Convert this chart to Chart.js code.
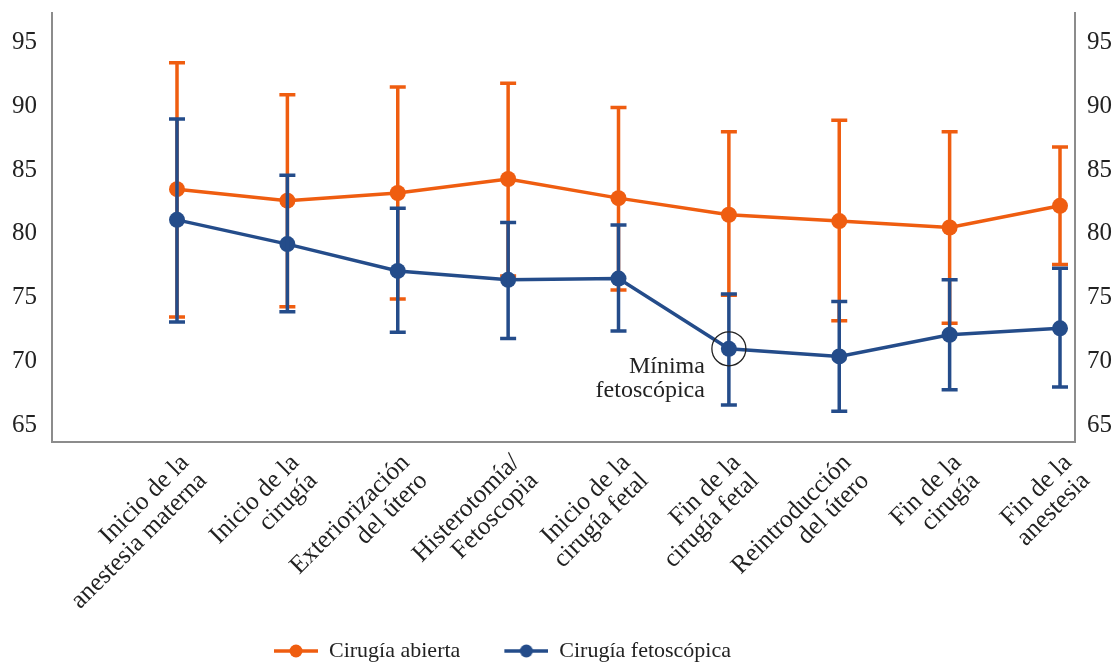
<!DOCTYPE html>
<html>
<head>
<meta charset="utf-8">
<script src="https://cdn.jsdelivr.net/npm/chart.js@4.4.0/dist/chart.umd.min.js"></script>
<style>
  html, body { margin: 0; padding: 0; background: #fff; }
  #wrap { width: 1119px; height: 668px; position: relative; }
</style>
</head>
<body>
<div id="wrap"><canvas id="chart"></canvas></div>
<script>
// datos
const categories = [
  ['Inicio de la', 'anestesia materna'],
  ['Inicio de la', 'cirugía'],
  ['Exteriorización', 'del útero'],
  ['Histerotomía/', 'Fetoscopia'],
  ['Inicio de la', 'cirugía fetal'],
  ['Fin de la', 'cirugía fetal'],
  ['Reintroducción', 'del útero'],
  ['Fin de la', 'cirugía'],
  ['Fin de la', 'anestesia']
];
const seriesNames = ['Cirugía abierta', 'Cirugía fetoscópica'];

const abiertaMean = [83.5, 82.6, 83.2, 84.3, 82.8, 81.5, 81.0, 80.5, 82.2];
const abiertaHigh = [93.4, 90.9, 91.5, 91.8, 89.9, 88.0, 88.9, 88.0, 86.8];
const abiertaLow  = [73.5, 74.3, 74.9, 76.7, 75.6, 75.2, 73.2, 73.0, 77.6];

const fetoMean = [81.1, 79.2, 77.1, 76.4, 76.5, 71.0, 70.4, 72.1, 72.6];
const fetoHigh = [89.0, 84.6, 82.0, 80.9, 80.7, 75.3, 74.7, 76.4, 77.3];
const fetoLow  = [73.1, 73.9, 72.3, 71.8, 72.4, 66.6, 66.1, 67.8, 68.0];

const yTicks = [65, 70, 75, 80, 85, 90, 95];
const minimaIndex = 5;
const minimaText = ['Mínima', 'fetoscópica'];

const ORANGE = '#EF5D10';
const BLUE = '#244C8A';
const AXIS = '#8c8c8c';
const TEXT = '#222';
const FONT = "'Liberation Serif', 'Times New Roman', serif";

const PAD_TOP = 13;
const PAD_BOTTOM = -4;
const PLOT_BOTTOM = 442;
const PLOT_LEFT = 52;
const PLOT_RIGHT = 1075;

function toPoints(arr) {
  return arr.map((v, i) => ({ x: i, y: v }));
}

// marcador de la leyenda: hueco + línea con punto
function legendMarker(color) {
  const c = document.createElement('canvas');
  c.width = 68; c.height = 16;
  const g = c.getContext('2d');
  g.strokeStyle = color; g.lineWidth = 3.5;
  g.beginPath(); g.moveTo(24, 8); g.lineTo(68, 8); g.stroke();
  g.fillStyle = color;
  g.beginPath(); g.arc(46, 8, 6.5, 0, Math.PI * 2); g.fill();
  return c;
}

const errorBars = {
  id: 'errorBars',
  afterDatasetDraw(chart, args) {
    const ds = chart.data.datasets[args.index];
    if (!ds.errLow) return;
    const y = chart.scales.y;
    const ctx = chart.ctx;
    ctx.save();
    ctx.strokeStyle = ds.borderColor;
    ctx.lineWidth = 3.5;
    args.meta.data.forEach((pt, i) => {
      const top = y.getPixelForValue(ds.errHigh[i]);
      const bot = y.getPixelForValue(ds.errLow[i]);
      ctx.beginPath();
      ctx.moveTo(pt.x, top); ctx.lineTo(pt.x, bot);
      ctx.moveTo(pt.x - 8, top); ctx.lineTo(pt.x + 8, top);
      ctx.moveTo(pt.x - 8, bot); ctx.lineTo(pt.x + 8, bot);
      ctx.stroke();
    });
    ctx.restore();
  }
};

const minimaNote = {
  id: 'minimaNote',
  afterDraw(chart) {
    const pt = chart.getDatasetMeta(1).data[minimaIndex];
    if (!pt) return;
    const ctx = chart.ctx;
    ctx.save();
    ctx.strokeStyle = '#222';
    ctx.lineWidth = 1.3;
    ctx.beginPath();
    ctx.arc(pt.x, pt.y, 17, 0, Math.PI * 2);
    ctx.stroke();
    ctx.fillStyle = TEXT;
    ctx.font = '24px ' + FONT;
    ctx.textAlign = 'right';
    ctx.textBaseline = 'alphabetic';
    ctx.fillText(minimaText[0], pt.x - 24, pt.y + 24);
    ctx.fillText(minimaText[1], pt.x - 24, pt.y + 48);
    ctx.restore();
  }
};

// la leyenda del original no está centrada
const legendShift = {
  id: 'legendShift',
  afterLayout(chart) {
    chart.legend.left -= 69;
    chart.legend.right -= 69;
  }
};

const yScale = (position, pad, width) => ({
  type: 'linear',
  position: position,
  min: 63.7,
  max: 97.3,
  grid: { display: false, drawTicks: false },
  border: { display: true, color: AXIS, width: 2 },
  ticks: { color: TEXT, padding: pad, font: { family: FONT, size: 25 } },
  afterBuildTicks: (scale) => { scale.ticks = yTicks.map(v => ({ value: v })); },
  afterFit: (scale) => {
    scale.width = width;
    scale.paddingTop = 0;
    scale.paddingBottom = 0;
  }
});

new Chart(document.getElementById('chart'), {
  type: 'line',
  data: {
    datasets: [
      {
        label: seriesNames[0],
        data: toPoints(abiertaMean),
        errHigh: abiertaHigh,
        errLow: abiertaLow,
        borderColor: ORANGE,
        backgroundColor: ORANGE,
        pointBackgroundColor: ORANGE,
        borderWidth: 3.5,
        pointRadius: 8,
        pointBorderWidth: 0,
        order: 2
      },
      {
        label: seriesNames[1],
        data: toPoints(fetoMean),
        errHigh: fetoHigh,
        errLow: fetoLow,
        borderColor: BLUE,
        backgroundColor: BLUE,
        pointBackgroundColor: BLUE,
        borderWidth: 3.5,
        pointRadius: 8,
        pointBorderWidth: 0,
        order: 1
      }
    ]
  },
  options: {
    responsive: true,
    maintainAspectRatio: false,
    animation: false,
    layout: { padding: { top: PAD_TOP, bottom: PAD_BOTTOM, left: 0, right: 0 } },
    scales: {
      x: {
        type: 'linear',
        min: -(177 - PLOT_LEFT) / 110.375,
        max: 8 + (PLOT_RIGHT - 1060) / 110.375,
        grid: { display: false, drawTicks: false },
        border: { display: true, color: AXIS, width: 2 },
        ticks: {
          autoSkip: false,
          maxRotation: 45,
          minRotation: 45,
          padding: 8,
          labelOffset: 8,
          color: TEXT,
          font: { family: FONT, size: 25.5, lineHeight: 1.0 },
          callback: (v) => categories[v]
        },
        afterBuildTicks: (scale) => { scale.ticks = categories.map((_, i) => ({ value: i })); },
        afterFit: (scale) => {
          const legendH = scale.chart.legend ? scale.chart.legend.height : 0;
          scale.height = scale.chart.height - PAD_BOTTOM - PLOT_BOTTOM - legendH;
        }
      },
      y: yScale('left', 15, PLOT_LEFT),
      y2: yScale('right', 12, 1119 - PLOT_RIGHT)
    },
    plugins: {
      tooltip: { enabled: false },
      legend: {
        position: 'bottom',
        labels: {
          usePointStyle: true,
          pointStyleWidth: 68,
          padding: 20,
          color: TEXT,
          font: { family: FONT, size: 22 },
          sort: (a, b) => a.datasetIndex - b.datasetIndex,
          generateLabels(chart) {
            const items = Chart.defaults.plugins.legend.labels.generateLabels(chart);
            items.forEach(it => {
              it.pointStyle = legendMarker(chart.data.datasets[it.datasetIndex].borderColor);
            });
            return items;
          }
        }
      }
    }
  },
  plugins: [errorBars, minimaNote, legendShift]
});
</script>
</body>
</html>
